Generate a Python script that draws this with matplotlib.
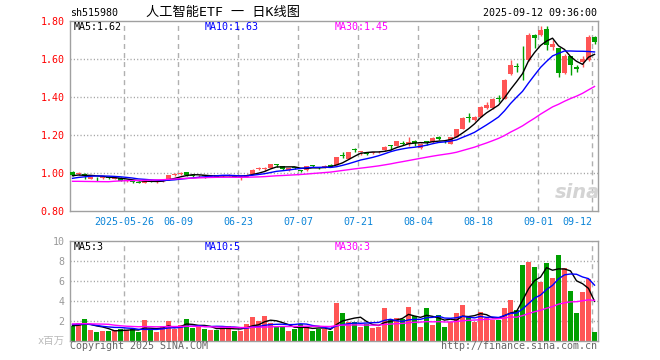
#!/usr/bin/env python3
"""Daily K-line chart of sh515980 with volume panel, Sina style."""

import matplotlib

matplotlib.use("Agg")
import matplotlib.pyplot as plt
import numpy as np
import pandas as pd

# trading days 2025-05-13 .. 2025-09-12, one row per day
opens = [1.007, 0.993, 0.997, 0.970, 0.979, 0.974, 0.978, 0.970, 0.975, 0.957,
         0.958, 0.955, 0.948, 0.960, 0.953, 0.957, 0.966, 0.990, 0.995, 1.004,
         0.990, 0.982, 0.986, 0.983, 0.988, 0.982, 0.986, 0.988, 0.972, 0.979,
         0.996, 1.020, 1.022, 1.028, 1.046, 1.036, 1.016, 1.030, 1.016, 1.016,
         1.038, 1.032, 1.033, 1.041, 1.044, 1.094, 1.076, 1.125, 1.110, 1.104,
         1.104, 1.108, 1.120, 1.146, 1.143, 1.157, 1.155, 1.170, 1.133, 1.166,
         1.164, 1.192, 1.168, 1.155, 1.190, 1.233, 1.292, 1.279, 1.296, 1.340,
         1.340, 1.395, 1.390, 1.520, 1.562, 1.606, 1.596, 1.728, 1.728, 1.757,
         1.663, 1.658, 1.526, 1.614, 1.556, 1.582, 1.596, 1.715]
highs = [1.010, 1.004, 0.999, 0.981, 0.981, 0.983, 0.979, 0.977, 0.977, 0.963,
         0.960, 0.957, 0.964, 0.962, 0.960, 0.968, 0.992, 1.002, 1.004, 1.006,
         0.992, 0.990, 0.990, 0.990, 0.990, 0.990, 0.995, 0.990, 0.983, 0.995,
         1.020, 1.030, 1.030, 1.050, 1.047, 1.038, 1.028, 1.034, 1.018, 1.037,
         1.042, 1.034, 1.040, 1.045, 1.086, 1.110, 1.113, 1.134, 1.113, 1.110,
         1.112, 1.114, 1.141, 1.148, 1.171, 1.170, 1.190, 1.172, 1.157, 1.168,
         1.188, 1.195, 1.175, 1.190, 1.234, 1.295, 1.315, 1.300, 1.352, 1.376,
         1.395, 1.410, 1.495, 1.594, 1.580, 1.670, 1.737, 1.732, 1.772, 1.772,
         1.702, 1.660, 1.628, 1.616, 1.570, 1.614, 1.728, 1.722]
lows = [0.986, 0.988, 0.970, 0.966, 0.958, 0.968, 0.968, 0.966, 0.956, 0.952,
        0.948, 0.947, 0.946, 0.952, 0.950, 0.955, 0.964, 0.985, 0.990, 0.986,
        0.980, 0.978, 0.975, 0.978, 0.979, 0.980, 0.982, 0.979, 0.965, 0.977,
        0.994, 1.015, 1.012, 1.026, 1.030, 1.016, 1.012, 1.022, 1.004, 1.013,
        1.030, 1.022, 1.028, 1.030, 1.040, 1.080, 1.072, 1.108, 1.097, 1.094,
        1.098, 1.104, 1.117, 1.120, 1.140, 1.145, 1.140, 1.140, 1.128, 1.145,
        1.160, 1.175, 1.158, 1.153, 1.188, 1.230, 1.270, 1.275, 1.294, 1.338,
        1.337, 1.375, 1.388, 1.515, 1.533, 1.490, 1.587, 1.660, 1.722, 1.645,
        1.650, 1.504, 1.520, 1.517, 1.530, 1.560, 1.590, 1.680]
closes = [0.989, 0.998, 0.982, 0.979, 0.977, 0.978, 0.973, 0.974, 0.959, 0.960,
          0.955, 0.950, 0.961, 0.955, 0.956, 0.962, 0.988, 0.995, 0.998, 0.989,
          0.985, 0.986, 0.983, 0.986, 0.981, 0.987, 0.989, 0.981, 0.980, 0.992,
          1.018, 1.024, 1.025, 1.048, 1.044, 1.019, 1.025, 1.027, 1.013, 1.035,
          1.036, 1.024, 1.036, 1.032, 1.083, 1.092, 1.110, 1.122, 1.112, 1.102,
          1.107, 1.111, 1.138, 1.143, 1.169, 1.155, 1.164, 1.156, 1.155, 1.164,
          1.185, 1.178, 1.166, 1.187, 1.231, 1.289, 1.290, 1.297, 1.349, 1.358,
          1.390, 1.392, 1.490, 1.570, 1.559, 1.603, 1.728, 1.710, 1.755, 1.675,
          1.680, 1.526, 1.615, 1.570, 1.548, 1.600, 1.715, 1.688]
volumes = [1.50, 1.80, 2.17, 1.07, 0.87, 0.97, 0.97, 1.07, 1.17, 1.07,
           1.17, 0.87, 2.07, 1.07, 0.87, 1.47, 1.97, 1.17, 1.57, 2.17,
           1.27, 1.47, 1.17, 1.07, 1.07, 1.37, 1.47, 0.97, 0.97, 1.67,
           2.37, 1.97, 2.47, 1.77, 1.37, 1.47, 0.97, 1.17, 1.67, 1.37,
           0.97, 1.17, 1.17, 0.97, 3.80, 2.80, 1.87, 1.87, 1.40, 1.67,
           1.27, 1.40, 3.30, 2.07, 2.27, 2.13, 3.40, 2.47, 1.40, 3.30,
           1.60, 2.60, 1.40, 1.87, 2.80, 3.60, 2.40, 1.87, 2.87, 2.27,
           2.07, 2.07, 3.30, 4.10, 3.07, 7.57, 7.90, 7.37, 5.90, 7.77,
           6.30, 8.57, 7.30, 4.97, 2.80, 4.87, 6.20, 0.87]
# colour of each day as drawn (1 = up / red, 0 = down / green)
up = [0, 1, 0, 1, 0, 1, 0, 1, 0, 1, 0, 0, 1, 0, 1, 1, 1, 1, 1, 0,
      0, 1, 0, 1, 0, 1, 1, 0, 1, 1, 1, 1, 1, 1, 0, 0, 1, 0, 0, 1,
      0, 0, 1, 0, 1, 0, 1, 0, 1, 0, 1, 1, 1, 0, 1, 0, 1, 0, 1, 0,
      1, 0, 0, 1, 1, 1, 0, 1, 1, 1, 1, 0, 1, 1, 0, 0, 1, 0, 1, 0,
      1, 0, 1, 0, 0, 1, 1, 0]

# earlier sessions (2025-03-27 .. 2025-05-12), only feed the moving averages
closes_before = [1.00, 1.00, 0.99, 0.99, 0.99, 0.98, 0.90, 0.91, 0.92, 0.93,
                 0.93, 0.94, 0.93, 0.93, 0.93, 0.93, 0.94, 0.94, 0.94, 0.95,
                 0.95, 0.95, 0.95, 0.96, 0.98, 0.98, 0.99, 0.98, 0.99]
volumes_before = [1.6, 1.5, 1.7, 1.4, 1.3, 1.6, 3.6, 3.0, 2.4, 2.0,
                  1.6, 1.5, 1.4, 1.3, 1.3, 1.2, 1.3, 1.4, 1.5, 1.6,
                  1.7, 1.7, 1.6, 1.8, 1.9, 1.6, 1.5, 1.3, 1.6]

tick_idx = [9, 18, 28, 38, 48, 58, 68, 78, 87]
tick_labels = ["2025-05-26", "06-09", "06-23", "07-07", "07-21",
               "08-04", "08-18", "09-01", "09-12"]

RED = "#ff5555"
GREEN = "#00a000"
MONO = ["DejaVu Sans Mono", "Noto Sans CJK SC"]
W, H = 660, 360


def px(x, y):
    return x / W, 1 - y / H


def ma(before, values, n):
    s = pd.Series(list(before) + list(values)).rolling(n).mean()
    return s.to_numpy()[len(before):]


def style_panel(ax):
    for sp in ax.spines.values():
        sp.set_color("#a0a0a0")
        sp.set_linewidth(1.0)
    ax.tick_params(length=0)
    for k in tick_idx:
        ax.axvline(k - 0.42, color="#b0b0b0", lw=1.0,
                   linestyle=(0, (3.6, 2.9)), zorder=0)


def main() -> None:
    plt.rcParams["font.family"] = MONO
    n = len(closes)
    x = np.arange(n)
    o, h, l, c = map(np.array, (opens, highs, lows, closes))
    colors = [RED if u else GREEN for u in up]

    fig = plt.figure(figsize=(W / 100, H / 100), dpi=100)
    ax = fig.add_axes([70 / W, 1 - 211 / H, 528 / W, 190 / H])
    axv = fig.add_axes([70 / W, 1 - 340.7 / H, 528 / W, 100 / H])

    # price panel
    style_panel(ax)
    for yv in (1.0, 1.2, 1.4, 1.6):
        ax.axhline(yv, color="#a0a0a0", lw=1.0, linestyle=(0, (0.8, 1.6)), zorder=0)
    ax.vlines(x, l, h, colors=colors, lw=1.0, zorder=2)
    body_lo = np.minimum(o, c)
    body_h = np.maximum(np.abs(c - o), 0.0045)
    ax.bar(x, body_h, bottom=body_lo, width=0.8, color=colors, lw=0, zorder=3)
    ax.plot(x, ma(closes_before, closes, 5), color="black", lw=1.0, zorder=4)
    ax.plot(x, ma(closes_before, closes, 10), color="blue", lw=1.0, zorder=4)
    ax.plot(x, ma(closes_before, closes, 30), color="magenta", lw=1.0, zorder=4)
    ax.set_xlim(-0.42, n - 0.42)
    ax.set_ylim(0.80, 1.80)
    ax.set_yticks([0.8, 1.0, 1.2, 1.4, 1.6, 1.8])
    ax.set_yticklabels(["0.80", "1.00", "1.20", "1.40", "1.60", "1.80"],
                       color="#ff0000", fontsize=7.2)
    ax.tick_params(axis="y", pad=4)
    ax.set_xticks([k - 0.42 for k in tick_idx])
    ax.set_xticklabels(tick_labels, color="#0a84d8", fontsize=7.2)
    ax.tick_params(axis="x", pad=4)
    ax.get_xticklabels()[-1].set_ha("right")

    # volume panel
    style_panel(axv)
    for yv in (2, 4, 6, 8):
        axv.axhline(yv, color="#a0a0a0", lw=1.0, linestyle=(0, (0.8, 1.6)), zorder=0)
    axv.bar(x, volumes, width=0.83, color=colors, lw=0, zorder=2)
    axv.plot(x, ma(volumes_before, volumes, 5), color="black", lw=1.0, zorder=3)
    axv.plot(x, ma(volumes_before, volumes, 10), color="blue", lw=1.0, zorder=3)
    axv.plot(x, ma(volumes_before, volumes, 30), color="magenta", lw=1.0, zorder=3)
    axv.set_xlim(-0.42, n - 0.42)
    axv.set_ylim(0, 10)
    axv.set_xticks([])
    axv.set_yticks([2, 4, 6, 8, 10])
    axv.set_yticklabels(["2", "4", "6", "8", "10"], color="#999999", fontsize=7.2)
    axv.tick_params(axis="y", pad=4)

    # texts
    fig.text(*px(70, 13), "sh515980", fontsize=7.2, va="center", ha="left")
    fig.text(*px(223, 12.5), "人工智能ETF 一 日K线图", fontsize=9.5,
             va="center", ha="center")
    fig.text(*px(597, 12.5), "2025-09-12 09:36:00", fontsize=7.2,
             va="center", ha="right")
    for xp, s, col in ((74, "MA5:1.62", "black"), (205, "MA10:1.63", "blue"),
                       (335, "MA30:1.45", "magenta")):
        fig.text(*px(xp, 27), s, fontsize=7.2, color=col, va="center")
    for xp, s, col in ((74, "MA5:3", "black"), (205, "MA10:5", "blue"),
                       (335, "MA30:3", "magenta")):
        fig.text(*px(xp, 247), s, fontsize=7.2, color=col, va="center")
    fig.text(*px(65, 341), "x百万", fontsize=7.5, color="#bbbbbb",
             va="center", ha="right")
    fig.text(*px(70, 346), "Copyright 2025 SINA.COM", fontsize=7.2,
             color="#666666", va="center", ha="left")
    fig.text(*px(597, 346), "http://finance.sina.com.cn", fontsize=7.2,
             color="#666666", va="center", ha="right")
    fig.text(*px(577, 193), "sina", fontsize=14, color="#d4d4d4",
             family="DejaVu Sans", style="italic", weight="bold",
             va="center", ha="center")

    fig.savefig("out.png", dpi=100)


if __name__ == "__main__":
    main()
